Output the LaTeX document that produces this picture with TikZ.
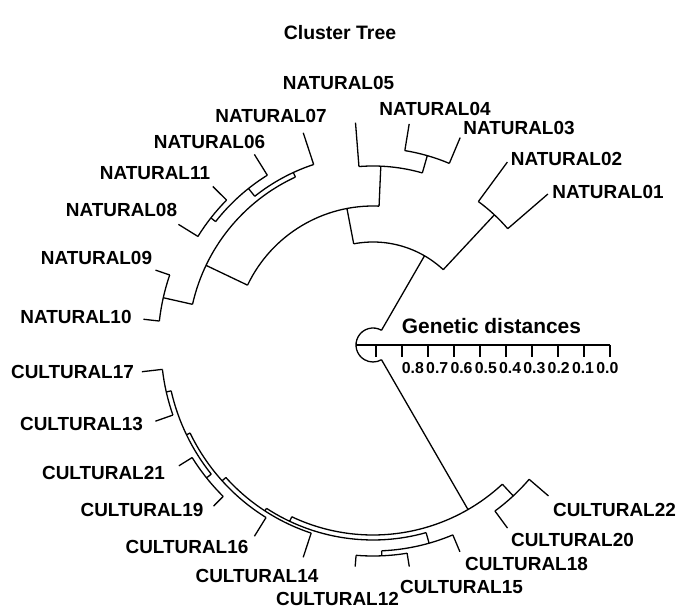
\documentclass[tikz,border=0pt]{standalone}
\usepackage{fontspec}
\setmainfont{Liberation Sans}
\begin{document}
\begin{tikzpicture}[x=1bp,y=1bp,
    branch/.style={draw=black, line width=1.3bp, line join=round},
    leaflabel/.style={font=\fontsize{19}{22}\selectfont\bfseries, inner sep=0pt},
    ticklabel/.style={font=\fontsize{15.9}{18}\selectfont\bfseries, inner sep=0pt, anchor=base west}]
  \useasboundingbox (-373,-266) rectangle (305,345);

  \node[font=\fontsize{19.5}{23}\selectfont\bfseries] (title) at (-33,312) {Cluster Tree};

  % root and distance scale
  \coordinate (root) at (0,0);
  \draw[branch] (60:17) arc[start angle=60, end angle=300, radius=17];
  \draw[branch] (180:17) -- (237,0);
  \foreach \k in {0,...,9}
    \draw[branch] (3+26*\k,0) -- ++(0,-12);
  \node[font=\fontsize{21}{24}\selectfont\bfseries, inner sep=0pt, anchor=base west] (scale) at (28.7,11.7) {Genetic distances};
  \foreach \v [count=\k from 0] in {0.8,0.7,0.6,0.5,0.4,0.3,0.2,0.1,0.0}
    \node[ticklabel] (tick\k) at (28.7+24.3*\k,-29) {\v};

  % inner nodes: link angle / parent radius / radius / arc start / arc end
  \foreach \a/\rp/\r/\s/\e in {
      60/17/103/47/100.8, 47/103/178/40.8/53.7, 100.8/103/139/87.5/154.5,
      87.5/139/179/74/94.5, 74/179/197/67.2/80.7, 154.5/139/185/114.8/167.3,
      114.8/185/190/108.2/128.5, 128.5/190/200/121.9/141.9, 141.9/200/206/135.3/148.2,
      167.3/185/215/161/173.6,
      300/17/190/244.7/312.9, 312.9/190/206/306.3/319.3, 244.7/190/195/236.9/285.8,
      285.8/195/206/272.4/292.8, 272.4/206/211/265.4/279.3, 236.9/195/198/222/251.8,
      222/198/203/205.7/238.2, 205.7/203/207/192.8/218.6, 192.8/207/212/186.6/199.3,
      218.6/207/213/211.9/225.3}
    \draw[branch] (\a:\rp) -- (\a:\r) (\s:\r) arc[start angle=\s, end angle=\e, radius=\r];

  % leaves
  \foreach \a/\ri/\ro/\lab/\lx/\ly in {
      40.8/178/231/NATURAL01/235/153, 53.7/178/227/NATURAL02/193.5/186,
      67.2/197/225/NATURAL03/146/216.5, 80.7/197/224/NATURAL04/62/236.5,
      94.5/179/223/NATURAL05/-34.5/262, 121.9/200/224.5/NATURAL06/-163.5/203,
      108.2/190/223.4/NATURAL07/-102/229, 148.2/206/229/NATURAL08/-251.5/135,
      161/215/230/NATURAL09/-276.5/87, 173.6/215/231/NATURAL10/-297/28,
      135.3/206/225.4/NATURAL11/-218/172,
      265.4/211/222.4/CULTURAL12/-35.5/-253.5, 199.3/212/230.5/CULTURAL13/-291.5/-78.5,
      251.8/198/223.5/CULTURAL14/-116/-230.5, 279.3/211/224.6/CULTURAL15/88.5/-241.5,
      238.2/203/225/CULTURAL16/-186/-202, 186.6/212/232.7/CULTURAL17/-300.5/-27,
      292.8/206/224.3/CULTURAL18/153.5/-218.5, 225.3/213/226.7/CULTURAL19/-231/-164.5,
      306.3/206/227.2/CULTURAL20/199.5/-195, 211.9/213/228.7/CULTURAL21/-269.5/-128,
      319.3/206/231.5/CULTURAL22/241.5/-165} {
    \coordinate (\lab-in) at (\a:\ri);
    \coordinate (\lab-end) at (\a:\ro);
    \draw[branch] (\lab-in) -- (\lab-end);
    \node[leaflabel] (\lab) at (\lx,\ly) {\lab};
  }
\end{tikzpicture}
\end{document}
